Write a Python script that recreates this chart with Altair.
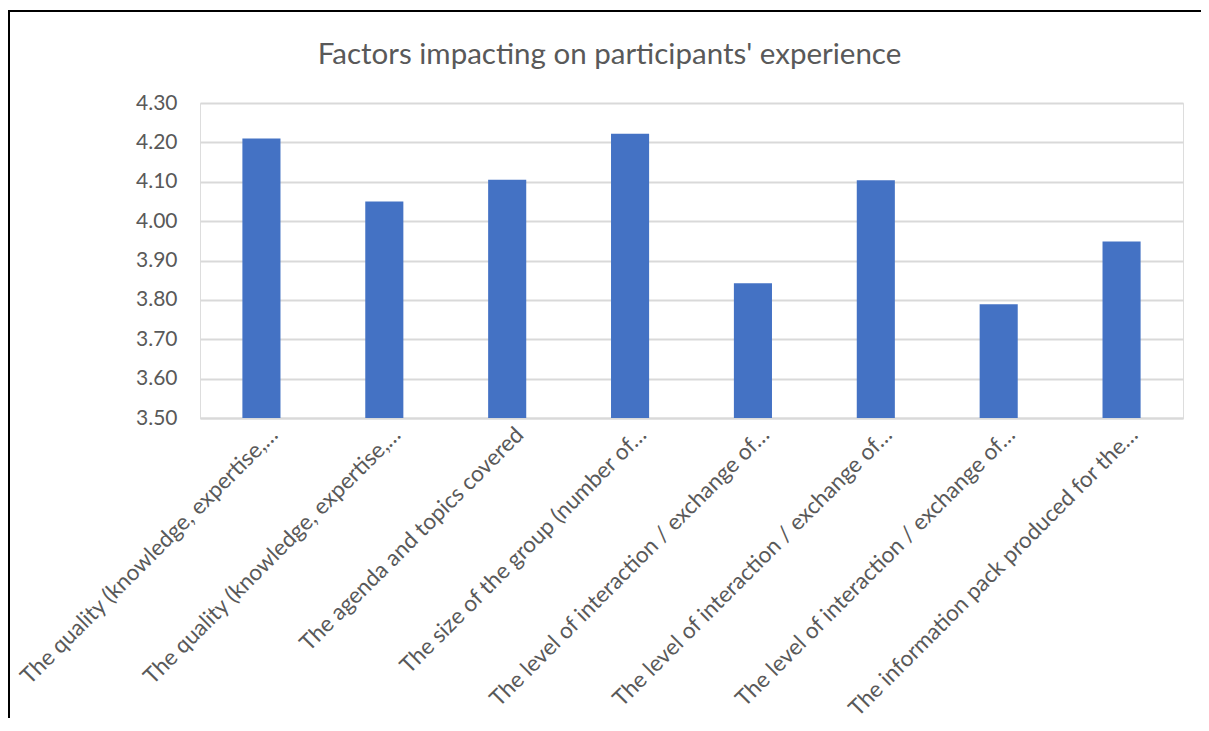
import altair as alt
import pandas as pd

categories = [
    "The quality (knowledge, expertise,…",
    "The quality (knowledge, expertise,…",
    "The agenda and topics covered",
    "The size of the group (number of…",
    "The level of interaction / exchange of…",
    "The level of interaction / exchange of…",
    "The level of interaction / exchange of…",
    "The information pack produced for the…",
]
values = [4.21, 4.05, 4.105, 4.222, 3.842, 4.104, 3.789, 3.948]
y_ticks = [3.5, 3.6, 3.7, 3.8, 3.9, 4.0, 4.1, 4.2, 4.3]
y_min, y_max = 3.5, 4.3

df = pd.DataFrame({"idx": list(range(len(categories))), "factor": categories, "score": values})
label_map = "{" + ",".join(f'"{i}": "{c}"' for i, c in enumerate(categories)) + "}"

FONT = "Lato"
GREY = "#595959"
W, H = 983, 315

bars = alt.Chart(df).mark_bar(color="#4472C4").encode(
    x=alt.X(
        "idx:O",
        scale=alt.Scale(paddingInner=0.69, paddingOuter=0.345),
        axis=alt.Axis(
            title=None,
            labelExpr=f"{label_map}[datum.value]",
            labelAngle=-45,
            labelFont=FONT,
            labelFontSize=22.5,
            labelColor=GREY,
            labelLimit=600,
            labelPadding=5,
            labelOffset=5,
            ticks=False,
            domain=True,
            domainColor="#d9d9d9",
            domainWidth=2,
            grid=False,
        ),
    ),
    y=alt.Y(
        "score:Q",
        scale=alt.Scale(domain=[y_min, y_max], nice=False, zero=False),
        axis=alt.Axis(
            title=None,
            values=y_ticks,
            format=".2f",
            labelFont=FONT,
            labelFontSize=21,
            labelColor=GREY,
            labelPadding=23,
            ticks=False,
            domain=False,
            gridColor="#d9d9d9",
            gridWidth=2,
        ),
    ),
    y2=alt.datum(y_min),
    tooltip=["factor:N", "score:Q"],
)

frame = alt.Chart(alt.Data(values=[{}])).mark_rule(color="black", strokeWidth=2).encode(
    x=alt.value(-191), y=alt.value(-93), y2=alt.value(620)
)
frame_top = alt.Chart(alt.Data(values=[{}])).mark_rule(color="black", strokeWidth=2).encode(
    x=alt.value(-191), x2=alt.value(1020), y=alt.value(-92)
)

chart = alt.layer(bars, frame, frame_top).properties(
    width=W,
    height=H,
    title=alt.TitleParams(
        "Factors impacting on participants' experience",
        anchor="middle",
        frame="group",
        dx=-82,
        font=FONT,
        fontSize=29.5,
        fontWeight="normal",
        color=GREY,
        baseline="alphabetic",
        offset=-84,
    ),
    autosize=alt.AutoSizeParams(type="none"),
    padding={"left": 192, "top": 95, "right": 18, "bottom": 300},
).configure_view(stroke="transparent", strokeWidth=0, strokeOpacity=0).configure(background="white")

chart.save("out.html", embed_options={"renderer": "svg", "actions": False})
